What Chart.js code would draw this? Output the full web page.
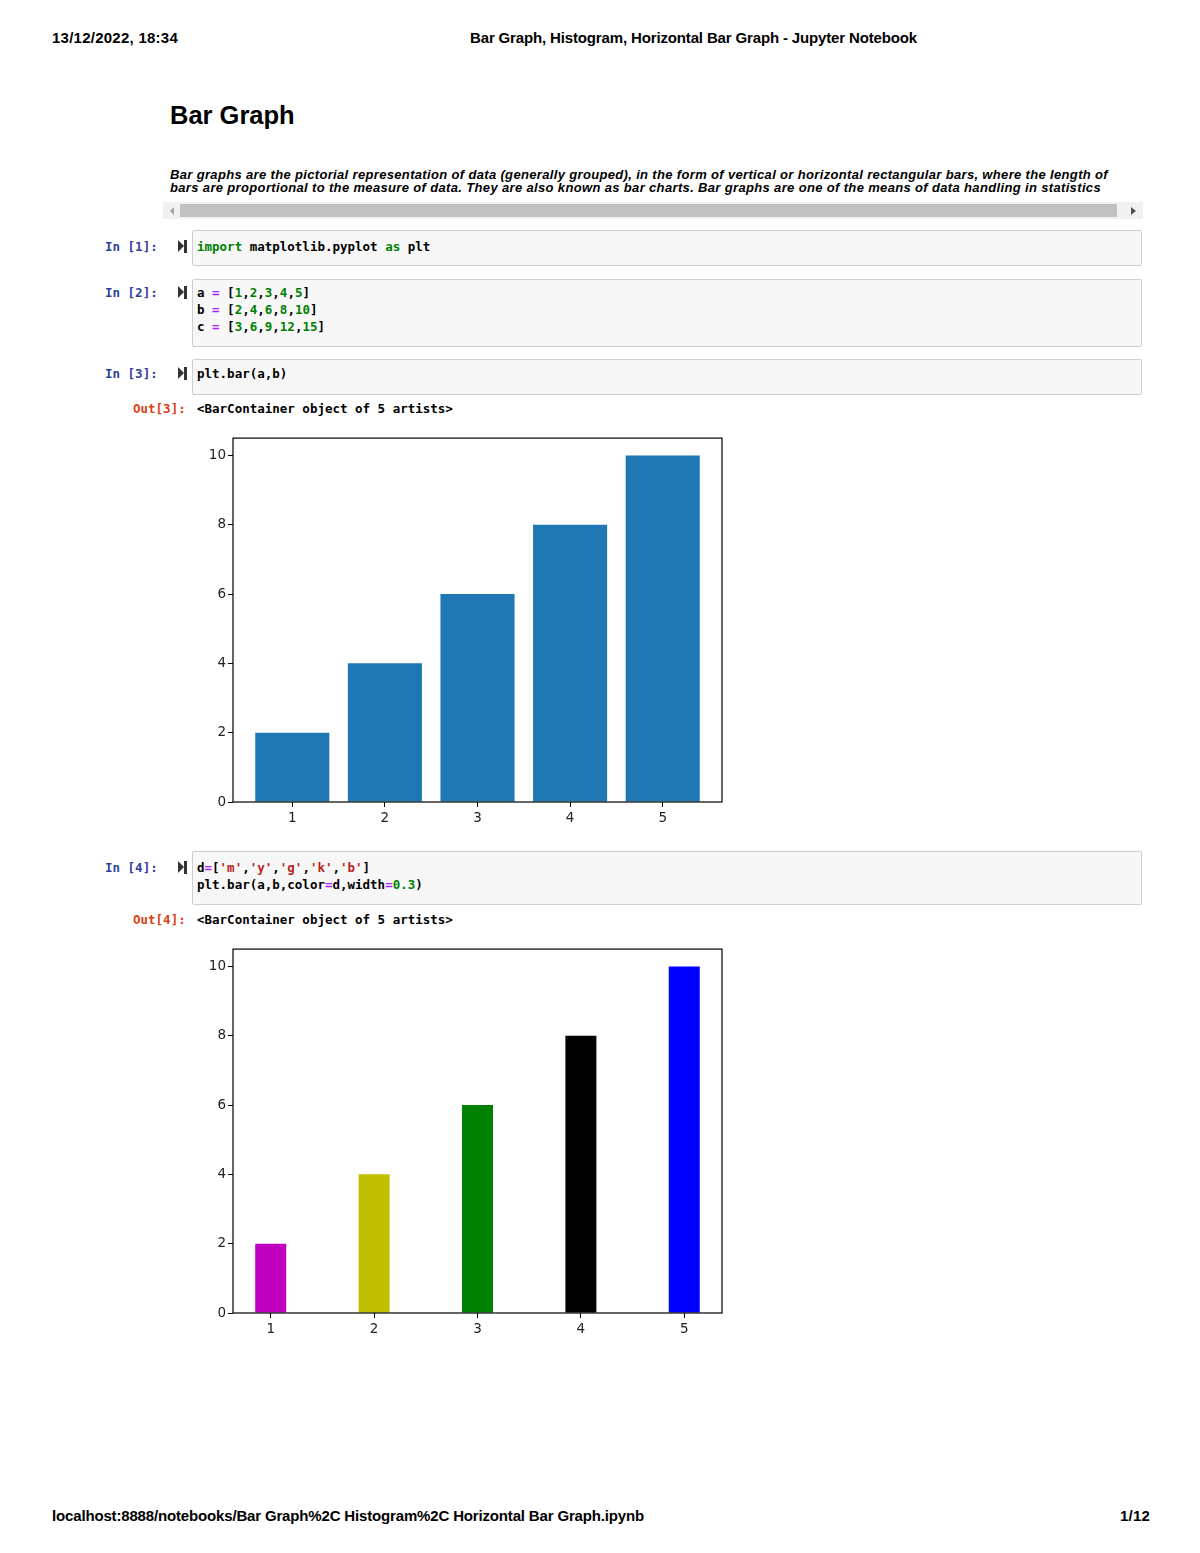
<!DOCTYPE html>
<html>
<head>
<meta charset="utf-8">
<script src="https://cdn.jsdelivr.net/npm/chart.js"></script>
<style>
  body { margin: 0; width: 1200px; height: 1553px; position: relative; background: #fff;
         font-family: "Liberation Sans", Arial, sans-serif; color: #000; overflow: hidden; }
  .abs { position: absolute; white-space: nowrap; }
  .hdr { font-size: 15px; font-weight: bold; line-height: 16px; }
  h1 { position: absolute; left: 170px; top: 100px; margin: 0; font-size: 25.5px; font-weight: bold; line-height: 30px; }
  .desc { font-size: 13px; font-weight: bold; font-style: italic; line-height: 13px; }
  .desc span { display: block; width: max-content; }
  .mono { font-family: "DejaVu Sans Mono", monospace; font-size: 12.5px; font-weight: bold; line-height: 17px; }
  .p-in { color: #303F9F; }
  .p-out { color: #D84315; }
  .cell { position: absolute; left: 192px; width: 950px; border: 1px solid #cfcfcf; border-radius: 2px;
          background: #f7f7f7; box-sizing: border-box; }
  .kw { color: #008000; } .op { color: #AA22FF; } .num { color: #008000; } .str { color: #BA2121; }
  .grafico { position: absolute; left: 190px; width: 550px; height: 400px; }
  .icone { position: absolute; left: 178px; width: 10px; height: 13px; }
  .icone .tri { position: absolute; left: 0; top: 0; width: 0; height: 0;
                border-left: 6px solid #333; border-top: 6.5px solid transparent; border-bottom: 6.5px solid transparent; }
  .icone .barra { position: absolute; left: 6px; top: 0; width: 3px; height: 13px; background: #333; }
  .scroll { position: absolute; left: 163px; top: 202px; width: 980px; height: 17px; background: #f1f1f1; }
  .scroll .thumb { position: absolute; left: 17px; top: 2px; width: 937px; height: 13px; background: #c1c1c1; }
  .scroll .seta-e { position: absolute; left: 7px; top: 5px; width: 0; height: 0;
                    border-right: 4px solid #a3a3a3; border-top: 4px solid transparent; border-bottom: 4px solid transparent; }
  .scroll .seta-d { position: absolute; left: 968px; top: 5px; width: 0; height: 0;
                    border-left: 5px solid #505050; border-top: 4px solid transparent; border-bottom: 4px solid transparent; }
</style>
</head>
<body>

<!-- cabeçalho / rodapé da impressão -->
<div class="abs hdr" style="left:52px; top:30px;" data-w="126">13/12/2022, 18:34</div>
<div class="abs hdr" style="left:470px; top:30px;" data-w="447">Bar Graph, Histogram, Horizontal Bar Graph - Jupyter Notebook</div>
<div class="abs hdr" style="left:52px; top:1508px;" data-w="592">localhost:8888/notebooks/Bar Graph%2C Histogram%2C Horizontal Bar Graph.ipynb</div>
<div class="abs hdr" style="left:1120px; top:1508px;" data-w="30">1/12</div>

<h1>Bar Graph</h1>

<div class="abs desc" style="left:170px; top:168px;">
  <span data-w="938">Bar graphs are the pictorial representation of data (generally grouped), in the form of vertical or horizontal rectangular bars, where the length of</span>
  <span data-w="931">bars are proportional to the measure of data. They are also known as bar charts. Bar graphs are one of the means of data handling in statistics</span>
</div>

<div class="scroll"><div class="seta-e"></div><div class="thumb"></div><div class="seta-d"></div></div>

<!-- In [1] -->
<div class="abs mono p-in" style="left:105px; top:237.5px;">In [1]:</div>
<div class="icone" style="top:240px;"><div class="tri"></div><div class="barra"></div></div>
<div class="cell" style="top:230px; height:36px;"></div>
<div class="abs mono" style="left:197px; top:237.5px;"><span class="kw">import</span> matplotlib.pyplot <span class="kw">as</span> plt</div>

<!-- In [2] -->
<div class="abs mono p-in" style="left:105px; top:283.5px;">In [2]:</div>
<div class="icone" style="top:286px;"><div class="tri"></div><div class="barra"></div></div>
<div class="cell" style="top:279px; height:68px;"></div>
<div class="abs mono" style="left:197px; top:283.5px;">
  a <span class="op">=</span> [<span class="num">1</span>,<span class="num">2</span>,<span class="num">3</span>,<span class="num">4</span>,<span class="num">5</span>]<br>
  b <span class="op">=</span> [<span class="num">2</span>,<span class="num">4</span>,<span class="num">6</span>,<span class="num">8</span>,<span class="num">10</span>]<br>
  c <span class="op">=</span> [<span class="num">3</span>,<span class="num">6</span>,<span class="num">9</span>,<span class="num">12</span>,<span class="num">15</span>]
</div>

<!-- In [3] -->
<div class="abs mono p-in" style="left:105px; top:364.5px;">In [3]:</div>
<div class="icone" style="top:367px;"><div class="tri"></div><div class="barra"></div></div>
<div class="cell" style="top:359px; height:36px;"></div>
<div class="abs mono" style="left:197px; top:364.5px;">plt.bar(a,b)</div>
<div class="abs mono p-out" style="left:133px; top:399.5px;">Out[3]:</div>
<div class="abs mono" style="left:197px; top:399.5px;">&lt;BarContainer object of 5 artists&gt;</div>
<div class="grafico" style="top:428px;"><canvas id="g1" width="550" height="400"></canvas></div>

<!-- In [4] -->
<div class="abs mono p-in" style="left:105px; top:858.5px;">In [4]:</div>
<div class="icone" style="top:861px;"><div class="tri"></div><div class="barra"></div></div>
<div class="cell" style="top:851px; height:54px;"></div>
<div class="abs mono" style="left:197px; top:858.5px;">
  d<span class="op">=</span>[<span class="str">'m'</span>,<span class="str">'y'</span>,<span class="str">'g'</span>,<span class="str">'k'</span>,<span class="str">'b'</span>]<br>
  plt.bar(a,b,color<span class="op">=</span>d,width<span class="op">=</span><span class="num">0.3</span>)
</div>
<div class="abs mono p-out" style="left:133px; top:910.5px;">Out[4]:</div>
<div class="abs mono" style="left:197px; top:910.5px;">&lt;BarContainer object of 5 artists&gt;</div>
<div class="grafico" style="top:939px;"><canvas id="g2" width="550" height="400"></canvas></div>

<script>
// === DADOS (os mesmos do notebook) ===
const a = [1, 2, 3, 4, 5];
const b = [2, 4, 6, 8, 10];
const d = ['m', 'y', 'g', 'k', 'b'];
const xTicks = [1, 2, 3, 4, 5];
const yTicks = [0, 2, 4, 6, 8, 10];

// cores curtas do matplotlib -> hex
const mplCores = { m: '#bf00bf', y: '#bfbf00', g: '#008000', k: '#000000', b: '#0000ff' };
const azulPadrao = '#1f77b4';

// ajusta o espaçamento das letras para o texto ocupar a largura da imagem
document.querySelectorAll('[data-w]').forEach(el => {
  const alvo = +el.dataset.w;
  const w = el.getBoundingClientRect().width;
  el.style.letterSpacing = ((alvo - w) / el.textContent.length) + 'px';
});

// limites do eixo X como o matplotlib faz (largura da barra + margem de 5%)
function limitesX(largura) {
  const lo = Math.min(...a) - largura / 2;
  const hi = Math.max(...a) + largura / 2;
  const m = (hi - lo) * 0.05;
  return [lo - m, hi + m];
}

// moldura preta em volta da área do gráfico (spines)
const moldura = {
  id: 'moldura',
  afterDatasetsDraw(chart) {
    const { ctx, chartArea: c } = chart;
    ctx.save();
    ctx.strokeStyle = '#000';
    ctx.lineWidth = 1.2;
    ctx.strokeRect(c.left, c.top, c.right - c.left, c.bottom - c.top);
    ctx.restore();
  }
};

function desenhar(id, cores, largura) {
  const [xmin, xmax] = limitesX(largura);
  const fonte = { family: 'DejaVu Sans', size: 13.5 };
  new Chart(document.getElementById(id), {
    type: 'bar',
    data: {
      datasets: [{
        data: a.map((x, i) => ({ x: x, y: b[i] })),
        backgroundColor: cores,
        borderWidth: 0,
        categoryPercentage: 1,
        barPercentage: largura
      }]
    },
    options: {
      responsive: false,
      animation: false,
      layout: { padding: { top: 6, right: 18, left: 0, bottom: 0 } },
      plugins: { legend: { display: false }, tooltip: { enabled: false } },
      scales: {
        x: {
          type: 'linear', min: xmin, max: xmax, offset: false,
          afterBuildTicks: s => { s.ticks = xTicks.map(v => ({ value: v })); },
          afterFit: s => { s.height = 26; },
          grid: { offset: false, drawOnChartArea: false, color: '#000', tickLength: 5 },
          border: { display: false },
          ticks: { font: fonte, color: '#222', padding: 3, maxRotation: 0, autoSkip: false }
        },
        y: {
          min: 0, max: Math.max(...b) * 1.05,
          afterBuildTicks: s => { s.ticks = yTicks.map(v => ({ value: v })); },
          afterFit: s => { s.width = 43; },
          grid: { drawOnChartArea: false, color: '#000', tickLength: 5 },
          border: { display: false },
          ticks: { font: fonte, color: '#222', padding: 2 }
        }
      }
    },
    plugins: [moldura]
  });
}

desenhar('g1', azulPadrao, 0.8);
desenhar('g2', d.map(c => mplCores[c]), 0.3);
</script>
</body>
</html>
